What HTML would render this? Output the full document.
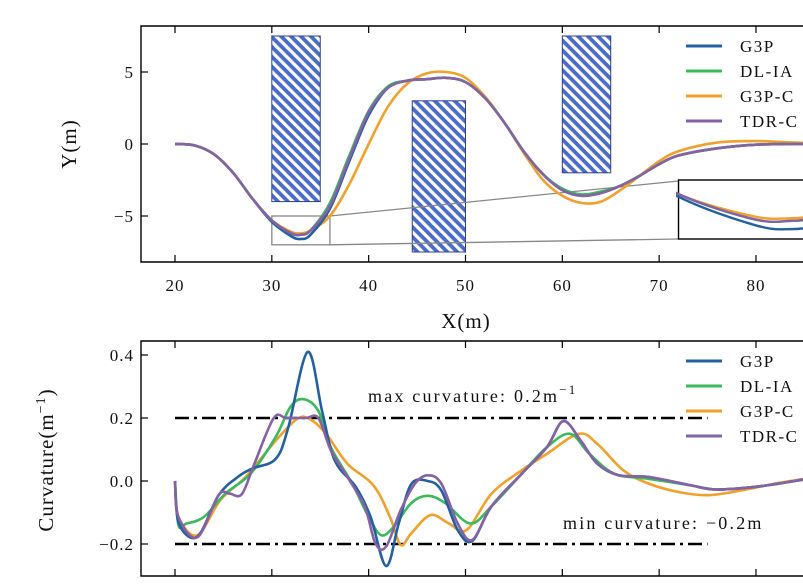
<!DOCTYPE html>
<html><head><meta charset="utf-8"><style>
body{margin:0;background:#fff;}
svg{display:block;font-family:"Liberation Serif",serif;}
</style></head><body>
<svg id="c" width="803" height="585" viewBox="0 0 803 585">
<defs>
<pattern id="hatch" width="7" height="7" patternUnits="userSpaceOnUse" patternTransform="rotate(45)">
<rect width="7" height="7" fill="#fff"/><rect width="7" height="3.8" fill="#4a6cc8"/>
</pattern>
<clipPath id="clipTop"><rect x="141" y="26" width="662" height="236"/></clipPath>
<clipPath id="clipBot"><rect x="141" y="341" width="662" height="235"/></clipPath>
<clipPath id="clipInset"><rect x="676" y="180" width="130" height="58"/></clipPath>
</defs>
</svg>
<script>
// ---- data ----
const seriesNames=["G3P","DL-IAPF","G3P-CILQR","TDR-OBCA"];
const seriesLabels=["G3P","DL-IA","G3P-C","TDR-C"];
const seriesColors=["#2360a0","#3db85c","#f0a02c","#8462a4"];
const pathX=[20,22,24,26,28,30,32,33,34,36,38,40,42,44,46,48,50,52,54,56,58,60,62,64,66,68,70,72,76,80,84,90];
const pathBlue=[0,-0.1,-0.7,-2,-3.8,-5.4,-6.4,-6.6,-6.3,-4.5,-1.2,2,3.9,4.4,4.5,4.6,4.3,3.2,1.5,-0.5,-2.1,-3.2,-3.6,-3.4,-2.9,-2.2,-1.4,-0.8,-0.3,-0.05,0,0];
const pathGreen=[0,-0.1,-0.7,-2,-3.8,-5.3,-6.2,-6.3,-6.0,-4.1,-0.8,2.3,4.0,4.4,4.5,4.6,4.3,3.2,1.5,-0.5,-2.1,-3.1,-3.5,-3.3,-2.9,-2.2,-1.4,-0.8,-0.3,-0.05,0,0];
const pathOrange=[0,-0.1,-0.7,-2,-3.8,-5.3,-6.1,-6.2,-6.0,-5,-2.8,0,2.6,4.2,4.9,5.0,4.6,3.3,1.5,-0.6,-2.5,-3.6,-4.1,-4,-3.2,-2.2,-1.2,-0.5,0.1,0.2,0.1,0];
const pathPurple=[0,-0.1,-0.7,-2,-3.8,-5.3,-6.2,-6.3,-6.0,-4.3,-1,2.2,3.9,4.4,4.5,4.6,4.3,3.2,1.5,-0.5,-2.1,-3.2,-3.6,-3.4,-2.9,-2.2,-1.4,-0.8,-0.3,-0.05,0,0];
const obstacles=[[30,35,-4,7.5],[44.5,50,-7.5,3],[60,65,-2,7.5]];
const kBlueX=[20,20.4,22.3,24.5,26.5,28,30.4,31.7,33.7,35.2,36.5,38.7,40.2,41.8,43.1,44.4,46.1,47.5,49.2,50.7,52.7,55.8,58.4,60.1,61.9,63.6,65.8,68.9,73.3,75.9,80.3,85];
const kBlue=[0,-0.135,-0.177,-0.045,0.013,0.04,0.07,0.17,0.41,0.22,0.065,-0.02,-0.114,-0.27,-0.135,-0.01,0,-0.03,-0.156,-0.19,-0.08,0.023,0.107,0.19,0.128,0.055,0.018,0.013,-0.014,-0.027,-0.017,0.005];
const kGreenX=[20,20.35,21.2,23,25.2,27.8,30.4,31.9,33.2,34.8,36.1,38.3,40,41.3,42.6,44.4,46.1,47.9,50.5,52.7,55.8,58.4,60.8,62.8,65.4,68.9,73.3,75.9,80.3,85];
const kGreen=[0,-0.14,-0.135,-0.114,-0.04,0.023,0.14,0.234,0.26,0.223,0.107,-0.008,-0.114,-0.172,-0.145,-0.07,-0.047,-0.07,-0.135,-0.08,0.023,0.107,0.15,0.086,0.023,0.007,-0.014,-0.027,-0.017,0.005];
const kOrangeX=[20,20.35,22.3,24.7,27.3,30.4,32.6,33.9,35.6,37.8,40.5,42.2,43.3,44.4,46.4,48.3,50.1,52.7,55.8,58.4,61.7,63.6,66.3,68.9,72,75,78.5,82,85];
const kOrange=[0,-0.114,-0.172,-0.06,0.013,0.128,0.197,0.197,0.15,0.055,-0.014,-0.114,-0.203,-0.166,-0.108,-0.135,-0.156,-0.04,0.034,0.086,0.15,0.118,0.034,-0.008,-0.035,-0.045,-0.03,-0.008,0.007];
const kPurpleX=[20,20.35,22.3,24.5,25.6,26.9,28.2,30.2,31.5,33.5,34.8,36.1,37.8,39.6,40.7,41.8,43.3,44.8,46.1,47.5,49.2,50.7,52.7,55.8,58.4,60.1,61.9,63.6,65.8,68.9,73.3,75.9,80.3,85];
const kPurple=[0,-0.114,-0.179,-0.045,-0.04,-0.042,0.055,0.2,0.2,0.2,0.2,0.097,0.013,-0.082,-0.198,-0.208,-0.093,-0.008,0.018,-0.008,-0.135,-0.187,-0.08,0.023,0.107,0.19,0.128,0.055,0.018,0.013,-0.014,-0.027,-0.017,0.005];
const topXTicks=[20,30,40,50,60,70,80];
const topYTicks=[5,0,-5];
const topYTickLabels=["5","0","\u22125"];
const botYTicks=[0.4,0.2,0,-0.2];
const botYTickLabels=["0.4","0.2","0.0","\u22120.2"];
const curvLimits=[0.2,-0.2];

// ---- axes ----
const NS="http://www.w3.org/2000/svg";
const svg=document.getElementById('c');
const X=v=>175+(v-20)*9.683;
const YT=v=>144-14.4*v;
const YB=v=>481-315*v;
const insX=v=>X(72)+(v-30)*36;
const insY=v=>186+(-5-v)*27;
function el(tag,attrs,parent){const e=document.createElementNS(NS,tag);for(const k in attrs)e.setAttribute(k,attrs[k]);(parent||svg).appendChild(e);return e;}
function smooth(pts){let d=`M${pts[0][0]},${pts[0][1]}`;for(let i=0;i<pts.length-1;i++){const p0=pts[Math.max(0,i-1)],p1=pts[i],p2=pts[i+1],p3=pts[Math.min(pts.length-1,i+2)];const c1=[p1[0]+(p2[0]-p0[0])/6,p1[1]+(p2[1]-p0[1])/6],c2=[p2[0]-(p3[0]-p1[0])/6,p2[1]-(p3[1]-p1[1])/6];d+=`C${c1[0].toFixed(1)},${c1[1].toFixed(1)} ${c2[0].toFixed(1)},${c2[1].toFixed(1)} ${p2[0].toFixed(1)},${p2[1].toFixed(1)}`;}return d;}
function text(x,y,s,attrs,name){const t=el('text',Object.assign({x:x,y:y,'font-size':17,'letter-spacing':1,fill:'#111'},attrs||{}));t.textContent=s;return t;}

// ===== top panel =====
const gTop=el('g',{'clip-path':'url(#clipTop)'});


obstacles.forEach((o,i)=>{const r=el('rect',{x:X(o[0]),y:YT(o[3]),width:X(o[1])-X(o[0]),height:YT(o[2])-YT(o[3]),fill:'url(#hatch)',stroke:'#2d3f8a','stroke-width':1},gTop);

});
const zr=el('rect',{x:X(30),y:YT(-5),width:X(36)-X(30),height:YT(-7)-YT(-5),fill:'none',stroke:'#888','stroke-width':1.3},gTop);


const c1=el('line',{x1:X(36),y1:YT(-5),x2:X(72),y2:181,stroke:'#888','stroke-width':1.3},gTop);


const c2=el('line',{x1:X(36),y1:YT(-7),x2:X(72),y2:239,stroke:'#888','stroke-width':1.3},gTop);


const paths=[pathBlue,pathGreen,pathOrange,pathPurple];
[2,0,1,3].forEach(i=>{const p=el('path',{d:smooth(pathX.map((x,j)=>[X(x),YT(paths[i][j])])),fill:'none',stroke:seriesColors[i],'stroke-width':2.6},gTop);

});
const inBg=el('rect',{x:X(72),y:180,width:140,height:59,fill:'#fff',stroke:'#000','stroke-width':1.4},gTop);


const gIn=el('g',{'clip-path':'url(#clipInset)'},gTop);
[2,0,1,3].forEach(i=>{const p=el('path',{d:smooth(pathX.map((x,j)=>[insX(x),insY(paths[i][j])])),fill:'none',stroke:seriesColors[i],'stroke-width':2.4},gIn);

});
const frT=el('path',{d:'M803,26H141V262H803',fill:'none',stroke:'#000','stroke-width':1.4});


topXTicks.forEach(t=>{el('line',{x1:X(t),x2:X(t),y1:262,y2:255,stroke:'#000','stroke-width':1.2});el('line',{x1:X(t),x2:X(t),y1:26,y2:33,stroke:'#000','stroke-width':1.2});
text(X(t),291,String(t),{'text-anchor':'middle'},'x-tick-label-'+t);});
topYTicks.forEach((t,i)=>{el('line',{x1:141,x2:148,y1:YT(t),y2:YT(t),stroke:'#000','stroke-width':1.2});
text(134,YT(t)+6,topYTickLabels[i],{'text-anchor':'end'},'y-tick-label-'+i);});
text(466,328,'X(m)',{'text-anchor':'middle','font-size':21},'x-axis-title');
text(0,0,'Y(m)',{'text-anchor':'middle','font-size':21,transform:'translate(76,144) rotate(-90)'},'y-axis-title');

// ===== bottom panel =====
const gBot=el('g',{'clip-path':'url(#clipBot)'});


curvLimits.forEach((v,i)=>{const l=el('line',{x1:X(20),x2:X(75),y1:YB(v),y2:YB(v),stroke:'#000','stroke-width':2.6,'stroke-dasharray':'14,5,3,5'},gBot);

});
const kx=[kBlueX,kGreenX,kOrangeX,kPurpleX],ky=[kBlue,kGreen,kOrange,kPurple];
[2,1,0,3].forEach(i=>{const p=el('path',{d:smooth(kx[i].map((x,j)=>[X(x),YB(ky[i][j])])),fill:'none',stroke:seriesColors[i],'stroke-width':2.6},gBot);

});
const mt=text(368,402,'max curvature: 0.2m',{'font-size':18,'letter-spacing':2.2},'max-curvature-label');
const s1=el('tspan',{dy:-8,'font-size':13},mt);s1.textContent='\u22121';
const nt=text(563,529,'min curvature: \u22120.2m',{'font-size':18,'letter-spacing':2.2},'min-curvature-label');
const frB=el('path',{d:'M803,341H141V576H803',fill:'none',stroke:'#000','stroke-width':1.4});


topXTicks.forEach(t=>{el('line',{x1:X(t),x2:X(t),y1:576,y2:569,stroke:'#000','stroke-width':1.2});el('line',{x1:X(t),x2:X(t),y1:341,y2:348,stroke:'#000','stroke-width':1.2});});
botYTicks.forEach((t,i)=>{el('line',{x1:141,x2:148,y1:YB(t),y2:YB(t),stroke:'#000','stroke-width':1.2});
text(134,YB(t)+6,botYTickLabels[i],{'text-anchor':'end'},'curv-tick-label-'+i);});
const yt=text(0,0,'Curvature(m',{'text-anchor':'middle','font-size':21,transform:'translate(53,460) rotate(-90)'},'curvature-axis-title');
const s2=el('tspan',{dy:-8,'font-size':14},yt);s2.textContent='\u22121';
const s3=el('tspan',{dy:8},yt);s3.textContent=')';

// legends
[[46,'top'],[361,'bottom']].forEach(([y0,w])=>{seriesLabels.forEach((lab,i)=>{const y=y0+i*25;
const l=el('line',{x1:686,x2:722,y1:y,y2:y,stroke:seriesColors[i],'stroke-width':3});


text(740,y+6,lab,{'font-size':17,'letter-spacing':1.5},w+'-legend-entry-'+i);});});
</script>
</body></html>
